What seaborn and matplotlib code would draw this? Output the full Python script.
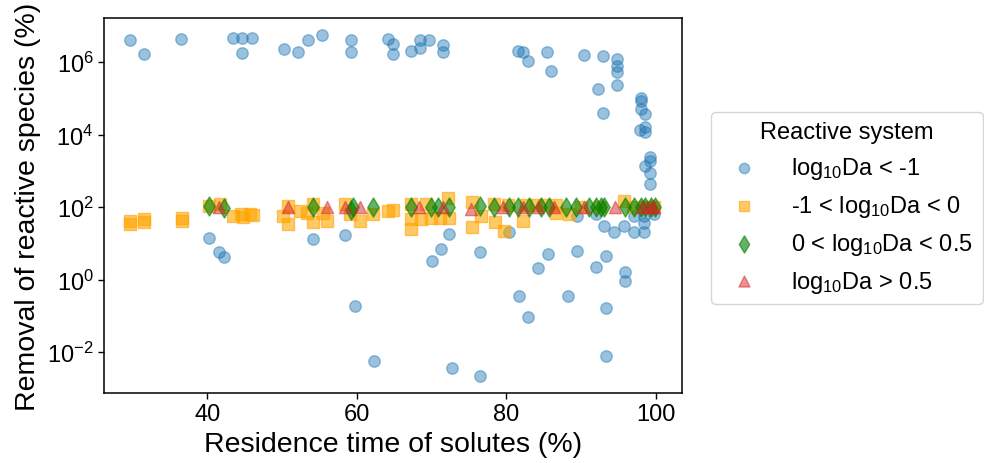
import matplotlib
matplotlib.use("Agg")
import matplotlib.pyplot as plt
import pandas as pd
import seaborn as sns
from matplotlib.ticker import FixedLocator, NullLocator

# ---------------- data ----------------
categories = [
    r"log$_{\mathregular{10}}$Da < -1",
    r"-1 < log$_{\mathregular{10}}$Da < 0",
    r"0 < log$_{\mathregular{10}}$Da < 0.5",
    r"log$_{\mathregular{10}}$Da > 0.5",
]

blue_x = [29.7, 31.5, 36.5, 43.4, 44.7, 46.0, 44.7, 50.3, 52.2, 53.5, 55.4, 59.2, 59.2,
          64.2, 64.8, 64.8, 67.2, 68.5, 68.5, 69.7, 71.6, 71.6, 81.6, 82.3, 82.9, 85.4,
          86.0, 90.4, 92.9, 92.3, 92.9, 94.8, 94.8, 94.8, 94.8, 98.0, 98.0, 98.0, 98.5,
          98.5, 97.9, 98.5, 99.2, 99.2, 98.5, 99.2, 99.2,
          40.3, 41.6, 42.2, 54.1, 58.4, 59.7, 62.3, 72.3, 71.3, 70.0, 76.5, 80.4, 72.7,
          76.5, 81.7, 82.9, 84.3, 85.6, 88.2, 89.5, 89.5, 92.0, 93.3, 93.1, 93.3, 93.3,
          94.4, 95.7, 95.9, 95.9, 97.1, 97.1, 98.4, 98.4, 98.4, 99.7, 92.0]
blue_y = [4.2e6, 1.7e6, 4.3e6, 4.6e6, 4.6e6, 4.6e6, 1.8e6, 2.3e6, 1.9e6, 4.0e6, 5.6e6, 4.0e6, 1.95e6,
          4.4e6, 3.2e6, 1.7e6, 2.1e6, 4.0e6, 2.5e6, 4.0e6, 3.0e6, 1.95e6, 2.1e6, 1.95e6, 1.1e6, 1.95e6,
          5.6e5, 1.6e6, 1.5e6, 1.8e5, 3.9e4, 1.26e6, 7.8e5, 5.5e5, 2.4e5, 1.0e5, 8.7e4, 5.0e4, 3.8e4,
          1.66e4, 1.35e4, 1.17e4, 2400, 1860, 1400, 850, 430,
          14.5, 5.8, 4.2, 13.2, 17.4, 0.19, 0.0056, 18.6, 6.9, 3.2, 5.8, 20, 0.0036,
          0.0022, 0.35, 0.095, 2.1, 5.1, 0.35, 6.3, 58, 2.2, 4.5, 30, 0.166, 0.0078,
          20, 30, 1.6, 0.93, 58, 20, 58, 37, 20, 63, 63]

orange_x = [29.7, 29.7, 31.6, 31.6, 36.6, 36.6, 40.3, 41.7, 43.5, 44.5, 44.8, 45.7, 46.1,
            50.2, 50.8, 50.8, 52.4, 53.3, 54.2, 54.2, 55.5, 56.0, 58.4, 59.1, 60.4, 62.2,
            64.2, 64.8, 67.3, 67.3, 67.3, 68.6, 69.2, 69.9, 71.1, 72.2, 72.4, 75.4, 75.4,
            76.6, 78.4, 78.5, 79.7, 80.2, 82.2, 82.6, 84.0, 85.0, 86.6, 86.6, 88.4, 90.0,
            92.5, 95.7, 97.0, 98.5, 99.8]
orange_y = [42, 35, 47, 39, 49, 42, 105, 120, 58, 63, 52, 63, 60,
            58, 34, 107, 79, 71, 120, 38, 71, 42, 120, 63, 42, 63,
            79, 83, 120, 47, 25, 47, 120, 51, 51, 174, 51, 135, 28,
            58, 120, 38, 22, 112, 42, 112, 112, 112, 112, 71, 63, 100,
            100, 148, 100, 100, 100]

green_x = [40.3, 42.2, 54.2, 59.2, 59.5, 62.2, 67.3, 69.9, 70.8, 72.4, 76.5, 78.4, 80.4,
           81.5, 83.1, 84.6, 85.7, 88.0, 89.3, 91.1, 92.0, 92.6, 93.1, 95.9, 97.1, 98.0,
           98.6, 99.3, 99.9]
green_y = [107, 92, 100, 86, 100, 100, 100, 100, 100, 100, 107, 100, 100,
           100, 100, 100, 100, 100, 100, 100, 100, 100, 100, 100, 100, 100,
           104, 100, 100]

red_x = [41.6, 50.8, 56.0, 58.4, 60.4, 68.3, 71.5, 75.3, 79.5, 82.2, 84.2, 86.4, 90.4,
         94.6, 98.1, 98.8, 99.5, 99.8]
red_y = [100, 100, 100, 100, 100, 100, 100, 87, 100, 100, 100, 100, 100,
         100, 100, 100, 100, 100]

y_ticks = [1e-2, 1e0, 1e2, 1e4, 1e6]

# ---------------- styling ----------------
sns.set_theme(style="ticks")
plt.rcParams["font.family"] = ["Liberation Sans", "DejaVu Sans"]
plt.rcParams["mathtext.fontset"] = "custom"
plt.rcParams["mathtext.rm"] = "Liberation Sans"
plt.rcParams["mathtext.it"] = "Liberation Sans:italic"
plt.rcParams["mathtext.bf"] = "Liberation Sans:bold"
for k in ["text.color", "axes.labelcolor", "xtick.color", "ytick.color", "axes.edgecolor"]:
    plt.rcParams[k] = "black"

df = pd.concat([
    pd.DataFrame({"x": blue_x, "y": blue_y, "system": categories[0]}),
    pd.DataFrame({"x": orange_x, "y": orange_y, "system": categories[1]}),
    pd.DataFrame({"x": green_x, "y": green_y, "system": categories[2]}),
    pd.DataFrame({"x": red_x, "y": red_y, "system": categories[3]}),
], ignore_index=True)

colors = ["tab:blue", "orange", "green", "tab:red"]
markers = ["o", "s", "d", "^"]
sizes = [68, 68, 95, 78]
alphas = [0.45, 0.6, 0.6, 0.5]

fig = plt.figure(figsize=(9.84, 4.64), dpi=100)
ax = fig.add_axes([0.1057, 0.1509, 0.5874, 0.8081])

for cat, c, m, s, a in zip(categories, colors, markers, sizes, alphas):
    sub = df[df["system"] == cat]
    sns.scatterplot(data=sub, x="x", y="y", ax=ax, color=c, marker=m, s=s,
                    alpha=a, edgecolor=c, linewidth=1.0, label=cat, legend=False)

ax.set_yscale("log")
ax.set_xlim(26.2, 103.5)
ax.set_ylim(10 ** -3.13, 10 ** 7.22)
ax.yaxis.set_major_locator(FixedLocator(y_ticks))
ax.yaxis.set_minor_locator(NullLocator())
ax.set_xticks([40, 60, 80, 100])

ax.set_xlabel("Residence time of solutes (%)", fontsize=20.5)
ax.set_ylabel("Removal of reactive species (%)", fontsize=20.5)
ax.tick_params(axis="both", labelsize=17, direction="out", length=4, width=1, color="black")
for sp in ax.spines.values():
    sp.set_color("black")
    sp.set_linewidth(1.1)
    sp.set_visible(True)

leg = ax.legend(title="Reactive system", loc="upper left",
                bbox_to_anchor=(0.7226, 0.7565), bbox_transform=fig.transFigure,
                borderaxespad=0, fontsize=17, title_fontsize=17, markerscale=0.9,
                handletextpad=1.0, frameon=True)

fig.savefig("out.png", dpi=100)
